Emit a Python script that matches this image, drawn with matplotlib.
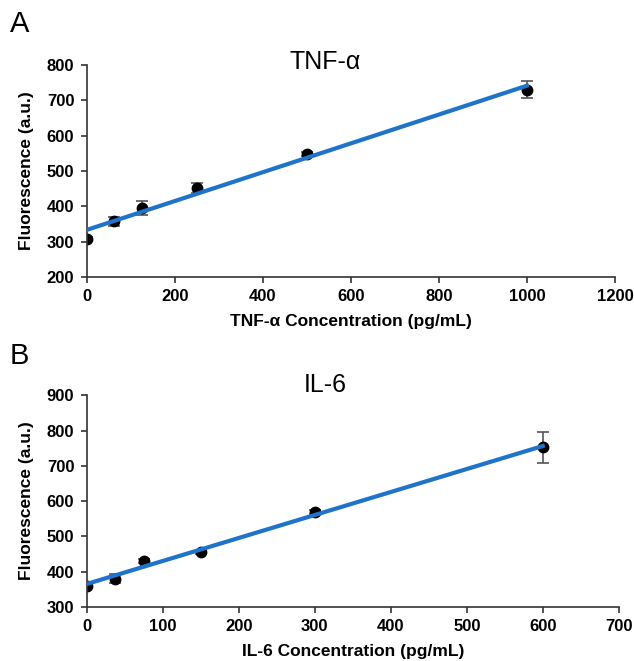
import numpy as np
import matplotlib
matplotlib.use("Agg")
import matplotlib.pyplot as plt

plt.rcParams['font.family'] = ['Liberation Sans', 'DejaVu Sans']

# TNF-alpha standard curve
tnf_conc = [0, 62.5, 125, 250, 500, 1000]
tnf_fluor = [308, 357, 394, 452, 548, 730]
tnf_err = [5, 13, 20, 15, 5, 23]

# IL-6 standard curve
il6_conc = [0, 37.5, 75, 150, 300, 600]
il6_fluor = [360, 380, 430, 456, 569, 752]
il6_err = [5, 12, 5, 5, 5, 43]

line_blue = '#1f73c8'


def panel(ax, x, y, err, xlim, xticks, ylim, yticks, xlabel):
    ax.errorbar(x, y, yerr=err, fmt='o', color='black', ms=7.5,
                ecolor='#555555', elinewidth=1.2, capsize=4, capthick=1.2, zorder=2)
    k, b = np.polyfit(x, y, 1)
    xs = np.array([x[0], x[-1]])
    ax.plot(xs, k * xs + b, color=line_blue, linewidth=3, zorder=3)
    ax.set_xlim(*xlim)
    ax.set_ylim(*ylim)
    ax.set_xticks(xticks)
    ax.set_yticks(yticks)
    for s in ['top', 'right']:
        ax.spines[s].set_visible(False)
    for s in ['left', 'bottom']:
        ax.spines[s].set_color('#333333')
        ax.spines[s].set_linewidth(1.2)
    ax.tick_params(direction='out', length=4, width=1.2, color='#333333',
                   labelsize=12, pad=5)
    for lab in ax.get_xticklabels() + ax.get_yticklabels():
        lab.set_fontweight('bold')
    ax.set_xlabel(xlabel, fontsize=12.5, fontweight='bold', labelpad=7)
    ax.set_ylabel('Fluorescence (a.u.)', fontsize=12.5, fontweight='bold', labelpad=9)


fig = plt.figure(figsize=(6.34, 6.61), dpi=100)
ax1 = fig.add_axes([0.137, 0.581, 0.833, 0.321])
ax2 = fig.add_axes([0.137, 0.082, 0.839, 0.320])

panel(ax1, tnf_conc, tnf_fluor, tnf_err, (0, 1200), range(0, 1201, 200),
      (200, 800), range(200, 801, 100), 'TNF-α Concentration (pg/mL)')
panel(ax2, il6_conc, il6_fluor, il6_err, (0, 700), range(0, 701, 100),
      (300, 900), range(300, 901, 100), 'IL-6 Concentration (pg/mL)')

fig.text(325 / 634, 1 - 62 / 661, 'TNF-α', fontsize=18, ha='center', va='center')
fig.text(325 / 634, 1 - 385 / 661, 'IL-6', fontsize=18, ha='center', va='center')
fig.text(10 / 634, 1 - 24 / 661, 'A', fontsize=21, ha='left', va='center')
fig.text(10 / 634, 1 - 356 / 661, 'B', fontsize=21, ha='left', va='center')

fig.savefig('out.png', dpi=100)
